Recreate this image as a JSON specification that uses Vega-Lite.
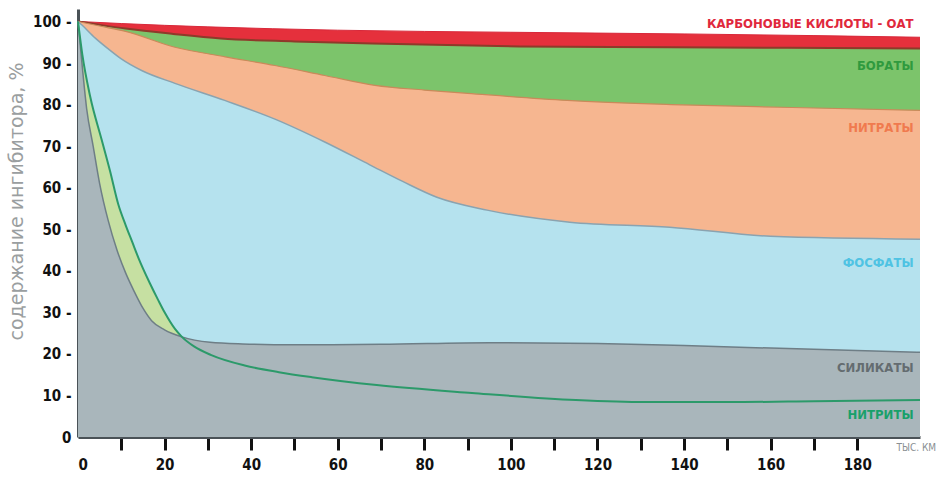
{
  "$schema": "https://vega.github.io/schema/vega-lite/v6.json",
  "autosize": {"type": "none"},
  "padding": {"left": 78, "top": 9, "right": 23, "bottom": 42},
  "width": 842,
  "height": 428,
  "background": "white",
  "config": {"view": {"stroke": null}},
  "datasets": {
    "curves": [
      {"s": "carb", "km": 0, "v": 100}, {"s": "carb", "km": 10, "v": 99.5}, {"s": "carb", "km": 30, "v": 98.7}, {"s": "carb", "km": 60, "v": 97.9}, {"s": "carb", "km": 100, "v": 97.4}, {"s": "carb", "km": 140, "v": 97.0}, {"s": "carb", "km": 170, "v": 96.6}, {"s": "carb", "km": 194.5, "v": 96.2},
      {"s": "bor", "km": 0, "v": 100}, {"s": "bor", "km": 5, "v": 99.2}, {"s": "bor", "km": 11, "v": 98.3}, {"s": "bor", "km": 22, "v": 97}, {"s": "bor", "km": 33, "v": 95.9}, {"s": "bor", "km": 50, "v": 95.2}, {"s": "bor", "km": 68, "v": 94.7}, {"s": "bor", "km": 102, "v": 94.0}, {"s": "bor", "km": 137, "v": 93.8}, {"s": "bor", "km": 194.5, "v": 93.5},
      {"s": "nitra", "km": 0, "v": 100}, {"s": "nitra", "km": 5, "v": 98.9}, {"s": "nitra", "km": 11, "v": 97.6}, {"s": "nitra", "km": 22.4, "v": 93.8}, {"s": "nitra", "km": 34, "v": 91.5}, {"s": "nitra", "km": 45.5, "v": 89.4}, {"s": "nitra", "km": 57, "v": 87}, {"s": "nitra", "km": 68.6, "v": 84.6}, {"s": "nitra", "km": 80, "v": 83.5}, {"s": "nitra", "km": 90, "v": 82.7}, {"s": "nitra", "km": 113, "v": 81}, {"s": "nitra", "km": 137, "v": 80}, {"s": "nitra", "km": 165, "v": 79.3}, {"s": "nitra", "km": 194.5, "v": 78.6},
      {"s": "phos", "km": 0, "v": 100}, {"s": "phos", "km": 0.85, "v": 99.2}, {"s": "phos", "km": 4, "v": 96}, {"s": "phos", "km": 7, "v": 93.4}, {"s": "phos", "km": 10, "v": 91}, {"s": "phos", "km": 14.7, "v": 88.2}, {"s": "phos", "km": 22.4, "v": 85.1}, {"s": "phos", "km": 33.9, "v": 81}, {"s": "phos", "km": 45.5, "v": 76.5}, {"s": "phos", "km": 57, "v": 71}, {"s": "phos", "km": 67.4, "v": 65.5}, {"s": "phos", "km": 75, "v": 61.5}, {"s": "phos", "km": 82.9, "v": 57.7}, {"s": "phos", "km": 94.5, "v": 54.6}, {"s": "phos", "km": 113.6, "v": 51.7}, {"s": "phos", "km": 136.7, "v": 50.5}, {"s": "phos", "km": 160, "v": 48.3}, {"s": "phos", "km": 194.5, "v": 47.6},
      {"s": "sil", "km": 0, "v": 100}, {"s": "sil", "km": 1, "v": 89}, {"s": "sil", "km": 2, "v": 79}, {"s": "sil", "km": 3.5, "v": 70}, {"s": "sil", "km": 5, "v": 61}, {"s": "sil", "km": 7, "v": 52}, {"s": "sil", "km": 9, "v": 45}, {"s": "sil", "km": 11, "v": 39.5}, {"s": "sil", "km": 13, "v": 35}, {"s": "sil", "km": 15, "v": 31}, {"s": "sil", "km": 17, "v": 28}, {"s": "sil", "km": 20, "v": 25.8}, {"s": "sil", "km": 24, "v": 24.1}, {"s": "sil", "km": 30.5, "v": 22.8}, {"s": "sil", "km": 38, "v": 22.4}, {"s": "sil", "km": 50, "v": 22.2}, {"s": "sil", "km": 70, "v": 22.3}, {"s": "sil", "km": 95, "v": 22.7}, {"s": "sil", "km": 120, "v": 22.5}, {"s": "sil", "km": 140, "v": 22}, {"s": "sil", "km": 160, "v": 21.4}, {"s": "sil", "km": 194.5, "v": 20.4},
      {"s": "nitri", "km": 0, "v": 100}, {"s": "nitri", "km": 1, "v": 92}, {"s": "nitri", "km": 2.8, "v": 82}, {"s": "nitri", "km": 5.5, "v": 71.4}, {"s": "nitri", "km": 7.4, "v": 64}, {"s": "nitri", "km": 9.3, "v": 56}, {"s": "nitri", "km": 11, "v": 51}, {"s": "nitri", "km": 12.5, "v": 47}, {"s": "nitri", "km": 14, "v": 43}, {"s": "nitri", "km": 16.6, "v": 37}, {"s": "nitri", "km": 18.5, "v": 33}, {"s": "nitri", "km": 20, "v": 30}, {"s": "nitri", "km": 22.4, "v": 26}, {"s": "nitri", "km": 24, "v": 24.1}, {"s": "nitri", "km": 26.8, "v": 21.8}, {"s": "nitri", "km": 30.8, "v": 19.7}, {"s": "nitri", "km": 38.5, "v": 17.2}, {"s": "nitri", "km": 46.4, "v": 15.6}, {"s": "nitri", "km": 54, "v": 14.4}, {"s": "nitri", "km": 69, "v": 12.5}, {"s": "nitri", "km": 91, "v": 10.6}, {"s": "nitri", "km": 115, "v": 8.9}, {"s": "nitri", "km": 131, "v": 8.4}, {"s": "nitri", "km": 150, "v": 8.4}, {"s": "nitri", "km": 170, "v": 8.6}, {"s": "nitri", "km": 194.5, "v": 8.9}
    ],
    "labels": [
      {"s": "carb", "km": 193, "v": 99.3, "t": "КАРБОНОВЫЕ КИСЛОТЫ - ОАТ"},
      {"s": "bor", "km": 193, "v": 89.4, "t": "БОРАТЫ"},
      {"s": "nitra", "km": 193, "v": 74.3, "t": "НИТРАТЫ"},
      {"s": "phos", "km": 193, "v": 41.8, "t": "ФОСФАТЫ"},
      {"s": "sil", "km": 193, "v": 16.6, "t": "СИЛИКАТЫ"},
      {"s": "nitri", "km": 193, "v": 5.3, "t": "НИТРИТЫ"}
    ]
  },
  "encoding": {
    "x": {
      "field": "km", "type": "quantitative",
      "scale": {"domain": [0, 194.5], "nice": false, "zero": false},
      "axis": {
        "values": [0, 10, 20, 30, 40, 50, 60, 70, 80, 90, 100, 110, 120, 130, 140, 150, 160, 170, 180],
        "labelExpr": "datum.value % 20 == 0 ? datum.label : ''",
        "grid": false,
        "tickSize": 13, "tickWidth": 3, "tickColor": "#111111",
        "tickOpacity": {"expr": "datum.value == 0 ? 0 : 1"},
        "labelPadding": 7, "labelFont": "DejaVu Sans Condensed", "labelFontSize": 15, "labelFontWeight": "bold", "labelColor": "#111111",
        "labelOverlap": false,
        "domainColor": "#4a5257", "domainWidth": 3,
        "title": "ТЫС. КМ", "titleX": 818, "titleY": 10, "titleAlign": "left", "titleBaseline": "middle",
        "titleFont": "DejaVu Sans Condensed", "titleFontSize": 10, "titleFontWeight": "normal", "titleColor": "#8a8f92"
      }
    },
    "y": {
      "field": "v", "type": "quantitative",
      "scale": {"domain": [0, 103], "nice": false},
      "axis": {
        "values": [0, 10, 20, 30, 40, 50, 60, 70, 80, 90, 100],
        "labelExpr": "datum.value == 0 ? '0' : datum.label + ' -'",
        "grid": false, "ticks": false,
        "labelPadding": 7, "labelFont": "DejaVu Sans Condensed", "labelFontSize": 15, "labelFontWeight": "bold", "labelColor": "#111111",
        "domainColor": "#4a5257", "domainWidth": 3,
        "title": "содержание ингибитора, %",
        "titleX": -62, "titleY": 192, "titleAngle": 270, "titleAlign": "center", "titleBaseline": "middle",
        "titleFont": "DejaVu Sans", "titleFontSize": 19, "titleFontWeight": "normal", "titleColor": "#9a9ea0"
      }
    }
  },
  "layer": [
    {"data": {"name": "curves"}, "transform": [{"filter": "datum.s == 'carb'"}],
     "mark": {"type": "area", "interpolate": "monotone", "color": "#e5303c", "opacity": 1, "line": {"color": "#d8283a", "strokeWidth": 1}}},
    {"data": {"name": "curves"}, "transform": [{"filter": "datum.s == 'bor'"}],
     "mark": {"type": "area", "interpolate": "monotone", "color": "#7cc46b", "opacity": 1, "line": {"color": "#8e3a2a", "strokeWidth": 2}}},
    {"data": {"name": "curves"}, "transform": [{"filter": "datum.s == 'nitra'"}],
     "mark": {"type": "area", "interpolate": "monotone", "color": "#f6b690", "opacity": 1, "line": {"color": "#c98a5a", "strokeWidth": 1.2}}},
    {"data": {"name": "curves"}, "transform": [{"filter": "datum.s == 'phos'"}],
     "mark": {"type": "area", "interpolate": "monotone", "color": "#b5e2ee", "opacity": 1, "line": {"color": "#8aa3b0", "strokeWidth": 1.5}}},
    {"data": {"name": "curves"}, "transform": [{"filter": "datum.s == 'nitri'"}],
     "mark": {"type": "area", "interpolate": "monotone", "color": "#c6e0a2", "opacity": 1}},
    {"data": {"name": "curves"}, "transform": [{"filter": "datum.s == 'sil'"}],
     "mark": {"type": "area", "interpolate": "monotone", "color": "#a9b6bb", "opacity": 1, "line": {"color": "#6e7e86", "strokeWidth": 1.5}}},
    {"data": {"name": "curves"}, "transform": [{"filter": "datum.s == 'nitri'"}],
     "mark": {"type": "line", "interpolate": "monotone", "color": "#2c9a6a", "strokeWidth": 2}},
    {"data": {"name": "labels"},
     "mark": {"type": "text", "align": "right", "baseline": "middle", "font": "DejaVu Sans Condensed", "fontSize": 13, "fontWeight": "bold"},
     "encoding": {
       "text": {"field": "t"},
       "color": {"field": "s", "type": "nominal", "legend": null,
         "scale": {"domain": ["carb", "bor", "nitra", "phos", "sil", "nitri"],
                   "range": ["#e0283c", "#2f9a3e", "#f07a4e", "#4fc3e3", "#646c70", "#19a06a"]}}
     }}
  ]
}
